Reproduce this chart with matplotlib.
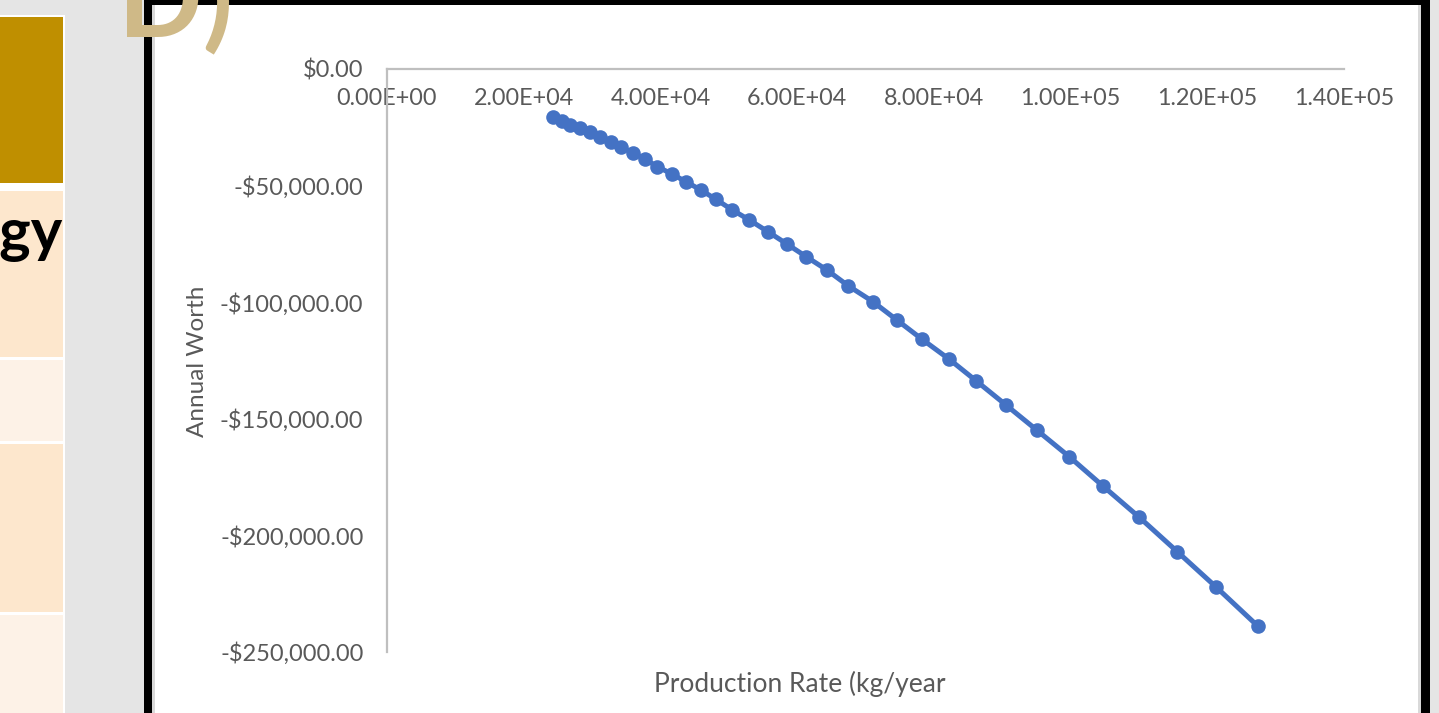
import matplotlib
matplotlib.use('Agg')
import matplotlib.pyplot as plt
from matplotlib.patches import Rectangle
from matplotlib.ticker import FuncFormatter, FixedLocator

# ---- data ----
production_rate = [24330, 25560, 26770, 28230, 29700, 31160, 32730, 34190, 36040, 37750,
                   39550, 41660, 43710, 45900, 48100, 50440, 53010, 55700, 58480, 61300,
                   64330, 67490, 71060, 74570, 78220, 82260, 86160, 90550, 95040, 99810,
                   104780, 110050, 115610, 121230, 127370]
annual_worth = [-20450, -22170, -24020, -25430, -27150, -29030, -31170, -33570, -35890, -38720,
                -41870, -45000, -48300, -51860, -55850, -60310, -64750, -69720, -74990, -80430,
                -86140, -93000, -99720, -107590, -115780, -124480, -133660, -144080, -154800, -166250,
                -178940, -192230, -206970, -221980, -238830]
x_ticks = [0, 20000, 40000, 60000, 80000, 100000, 120000, 140000]
y_ticks = [0, -50000, -100000, -150000, -200000, -250000]
x_title = "Production Rate (kg/year"
y_title = "Annual Worth"
panel_label = "D)"
table_word = "Energy"

W, H = 1439, 713
fig = plt.figure(figsize=(W / 100, H / 100), dpi=100, facecolor='#e5e5e5')
FONT = 'Lato'
GREY = '#595959'


def fx(px):
    return px / W


def fy(py):
    return 1 - py / H


def rect(x0, y0, x1, y1, color, z=0):
    r = Rectangle((fx(x0), fy(y1)), (x1 - x0) / W, (y1 - y0) / H,
                  transform=fig.transFigure, facecolor=color, edgecolor='none', zorder=z)
    fig.patches.append(r)
    return r


# left table fragment
rect(-5, 15, 65, 720, '#ffffff', 0)
rect(-5, 17, 63, 183, '#bf8f00', 1)
row1 = rect(-5, 191, 63, 357, '#fde7cd', 1)
rect(-5, 360, 63, 441, '#fdf2e7', 1)
rect(-5, 444, 63, 612, '#fde7cd', 1)
rect(-5, 615, 63, 720, '#fdf2e7', 1)
t = fig.text(fx(62), fy(251), table_word, ha='right', va='baseline', fontsize=43,
             fontweight='bold', family=FONT, color='#000000', zorder=2)
t.set_clip_path(row1)

# framed chart area
rect(144, -10, 1430, 720, '#000000', 1)
rect(152, 5, 1421, 720, '#ffffff', 2)
rect(152, 5, 155, 720, '#d9d9d9', 3)
rect(1418, 5, 1421, 720, '#d9d9d9', 3)

fig.text(fx(118), fy(36), panel_label, ha='left', va='baseline', fontsize=80,
         fontweight='bold', family=FONT, color='#cfb987', zorder=10)

# chart
ax = fig.add_axes([fx(387), fy(652), (1344 - 387) / W, (652 - 69) / H], zorder=5)
ax.patch.set_alpha(0)
ax.set_xlim(0, 140000)
ax.set_ylim(-250000, 0)
ax.plot(production_rate, annual_worth, color='#4472c4', lw=3.6, marker='o',
        markersize=10.5, markeredgewidth=0, clip_on=False, zorder=5)

for s in ['top', 'right']:
    ax.spines[s].set_visible(False)
ax.spines['bottom'].set_position(('data', 0))
for s in ['bottom', 'left']:
    ax.spines[s].set_color('#bfbfbf')
    ax.spines[s].set_linewidth(1.6)

ax.xaxis.set_major_locator(FixedLocator(x_ticks))
ax.yaxis.set_major_locator(FixedLocator(y_ticks))
ax.xaxis.set_major_formatter(FuncFormatter(lambda v, p: f"{v:.2E}"))


def money(v, p):
    s = f"${abs(v):,.2f}"
    return ("-" + s) if v < 0 else s


ax.yaxis.set_major_formatter(FuncFormatter(money))
ax.tick_params(axis='x', length=0, pad=14, labelsize=16.8, labelcolor=GREY)
ax.tick_params(axis='y', length=0, pad=17, labelsize=17, labelcolor=GREY)
for lab in ax.get_xticklabels() + ax.get_yticklabels():
    lab.set_family(FONT)

fig.text(fx(800), fy(684), x_title, ha='center', va='center', fontsize=19,
         family=FONT, color=GREY, zorder=10)
fig.text(fx(197), fy(361), y_title, ha='center', va='center', rotation=90,
         fontsize=17.5, family=FONT, color=GREY, zorder=10)

fig.savefig('out.png', dpi=100, facecolor=fig.get_facecolor())
